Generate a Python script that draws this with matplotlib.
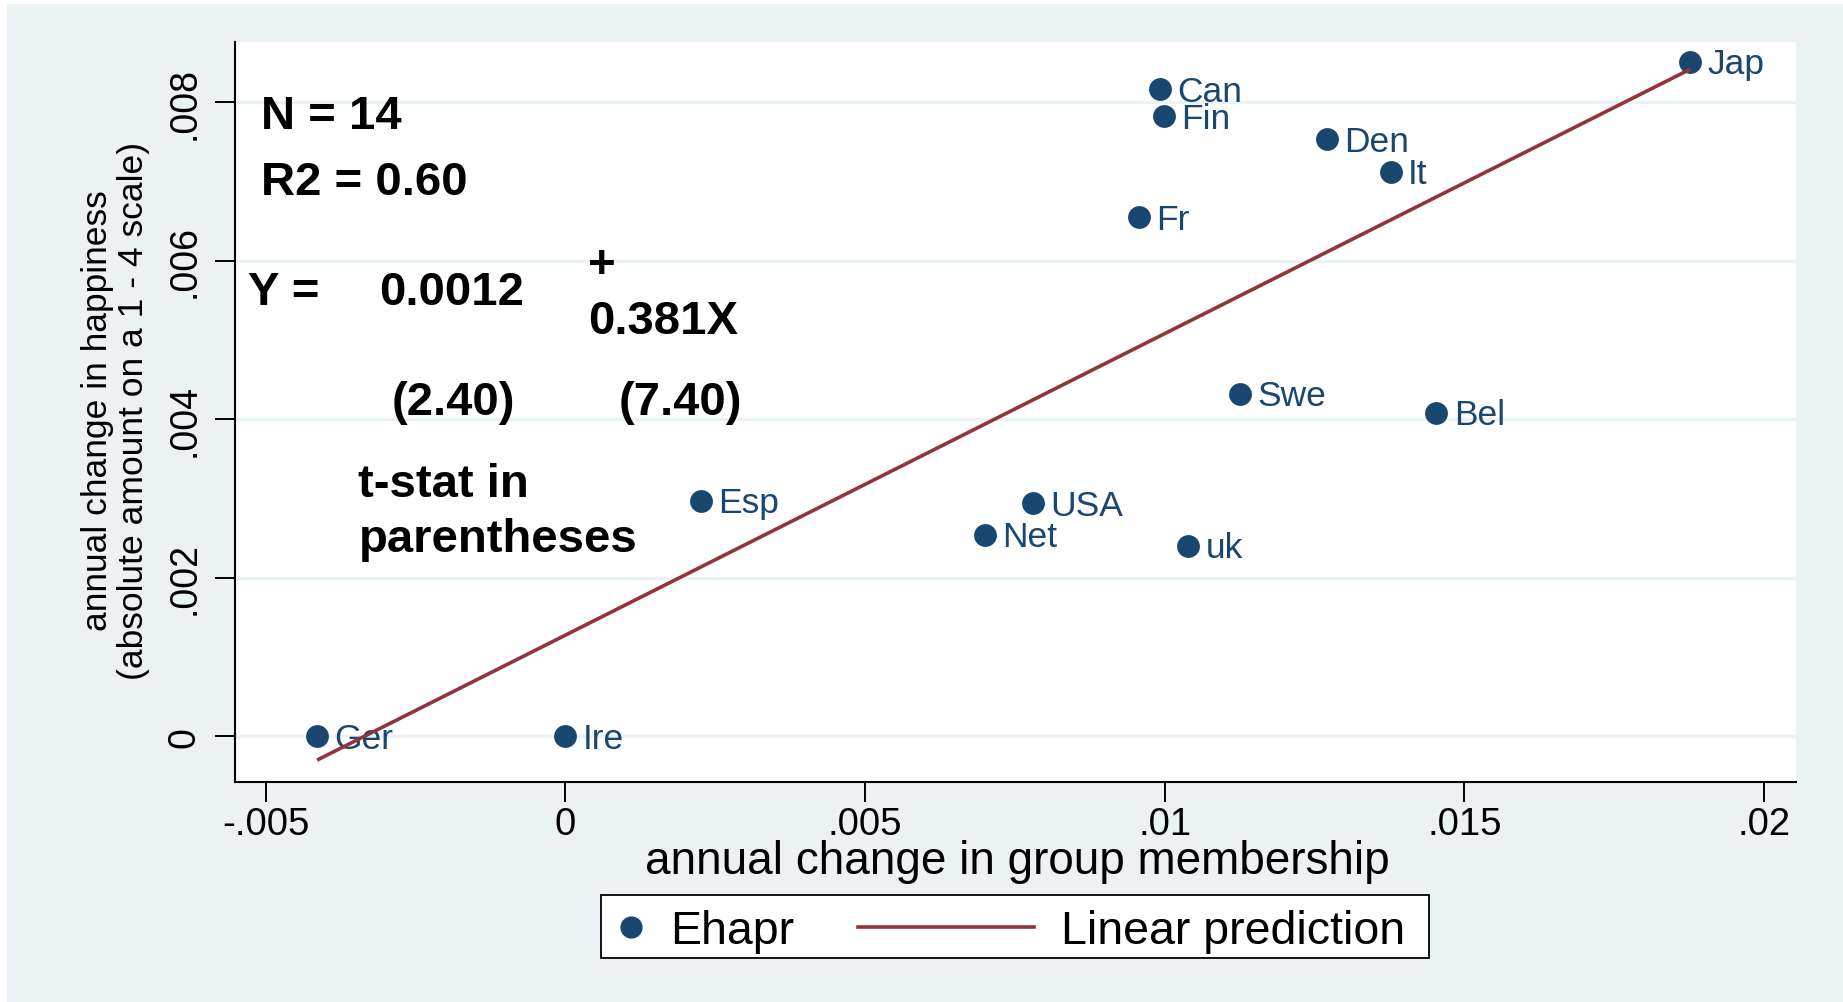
import numpy as np
import matplotlib
matplotlib.use('Agg')
import matplotlib.pyplot as plt
from matplotlib.patches import Rectangle
from matplotlib.lines import Line2D
from matplotlib import font_manager

# ---------------- data ----------------
countries = ['Jap', 'Can', 'Fin', 'Den', 'It', 'Fr', 'Swe', 'Bel',
             'Esp', 'USA', 'Net', 'uk', 'Ger', 'Ire']
membership = [0.01877, 0.00992, 0.00998, 0.01271, 0.01377, 0.00957, 0.01126,
              0.01453, 0.00226, 0.00780, 0.00700, 0.01039, -0.00414, 0.0]
happiness = [0.00851, 0.00816, 0.00782, 0.00753, 0.00712, 0.00655, 0.00432,
             0.00408, 0.00297, 0.00294, 0.00254, 0.00240, 0.0, 0.0]
xticks = [-0.005, 0, 0.005, 0.01, 0.015, 0.02]
xtick_labels = ['-.005', '0', '.005', '.01', '.015', '.02']
yticks = [0, 0.002, 0.004, 0.006, 0.008]
ytick_labels = ['0', '.002', '.004', '.006', '.008']
series_labels = ['Ehapr', 'Linear prediction']
xlabel = 'annual change in group membership'
ylabel = 'annual change in happiness\n(absolute amount on a 1 - 4 scale)'

# ---------------- style ----------------
avail = {f.name for f in font_manager.fontManager.ttflist}
REG = 'Liberation Sans' if 'Liberation Sans' in avail else 'DejaVu Sans'
plt.rcParams['font.family'] = [REG, 'DejaVu Sans']

NAVY = '#1a476f'
MAROON = '#90353b'
BG = '#eaf2f3'

W, H = 1843, 1003
fig = plt.figure(figsize=(W / 100, H / 100), dpi=100, facecolor='white')
fig.patches.append(Rectangle((7 / W, 0), 1, 1 - 5 / H, transform=fig.transFigure,
                             facecolor=BG, edgecolor='none', zorder=-10))

ax = fig.add_axes([235 / W, 1 - 783 / H, 1561 / W, 740 / H])
ax.set_facecolor('white')
ax.set_xlim(-0.00551, 0.02053)
ax.set_ylim(-0.000579, 0.008757)

for s in ['top', 'right']:
    ax.spines[s].set_visible(False)
for s in ['left', 'bottom']:
    ax.spines[s].set_linewidth(1.5)
    ax.spines[s].set_color('black')

ax.set_xticks(xticks)
ax.set_xticklabels(xtick_labels, fontsize=27.5)
ax.set_yticks(yticks)
ax.set_yticklabels(ytick_labels, fontsize=27, rotation=90, va='center')
ax.tick_params(axis='both', length=14.4, width=1.4, direction='out', color='black')
ax.tick_params(axis='x', pad=3)
ax.tick_params(axis='y', pad=9)
ax.grid(axis='y', color=BG, linewidth=2.5, zorder=0)
ax.set_axisbelow(True)

# scatter
ax.scatter(membership, happiness, s=270, color=NAVY, linewidths=0, zorder=3)
for c, xv, yv in zip(countries, membership, happiness):
    ax.annotate(c, (xv, yv), xytext=(12.5, -1.5), textcoords='offset points',
                va='center', ha='left', fontsize=25.5, color=NAVY, zorder=3)

# linear fit
xarr = np.array(membership)
yarr = np.array(happiness)
coef = np.polyfit(xarr, yarr, 1)
xs = np.array([xarr.min(), xarr.max()])
ax.plot(xs, np.polyval(coef, xs), color=MAROON, linewidth=2.6, zorder=5,
        solid_capstyle='butt')

# annotations
bold = dict(transform=ax.transAxes, fontsize=34, fontweight='bold', color='black',
            va='baseline', ha='left')
ax.text(0.0166, 0.884, 'N = 14', **bold)
ax.text(0.0166, 0.795, 'R2 = 0.60', **bold)
ax.text(0.0083, 0.6455, 'Y =', **bold)
ax.text(0.0926, 0.6455, '0.0012', **bold)
ax.text(0.235, 0.698, '+', transform=ax.transAxes, fontsize=34, fontweight='bold',
        va='center', ha='center')
ax.text(0.2259, 0.6073, '0.381X', **bold)
ax.text(0.1001, 0.4976, '(2.40)', **bold)
ax.text(0.2455, 0.4976, '(7.40)', **bold)
ax.text(0.0791, 0.3863, 't-stat in', **bold)
ax.text(0.0791, 0.3116, 'parentheses', **bold)

# axis titles
fig.text(1017 / W, 1 - 862 / H, xlabel, fontsize=33, ha='center', va='center')
fig.text(115.5 / W, 1 - 411 / H, ylabel, fontsize=25.5, ha='center', va='center',
         rotation=90, multialignment='center', linespacing=1.15)

# legend (manual box)
fig.patches.append(Rectangle((601 / W, 1 - 959 / H), 828 / W, 63 / H,
                             transform=fig.transFigure, facecolor='white',
                             edgecolor='black', linewidth=1.3, zorder=5))
ly = 1 - 927.5 / H
base = 1 - 944 / H
fig.lines.append(Line2D([631 / W], [ly], transform=fig.transFigure, marker='o',
                        markersize=16, color=NAVY, markeredgewidth=0, zorder=6))
fig.text(670 / W, base, series_labels[0], fontsize=33.5, va='baseline',
         ha='left', zorder=6)
fig.lines.append(Line2D([858 / W, 1034 / W], [ly, ly], transform=fig.transFigure,
                        color=MAROON, linewidth=2.6, zorder=6))
fig.text(1061 / W, base, series_labels[1], fontsize=33.5, va='baseline',
         ha='left', zorder=6)

fig.savefig('out.png', dpi=100, facecolor='white')
